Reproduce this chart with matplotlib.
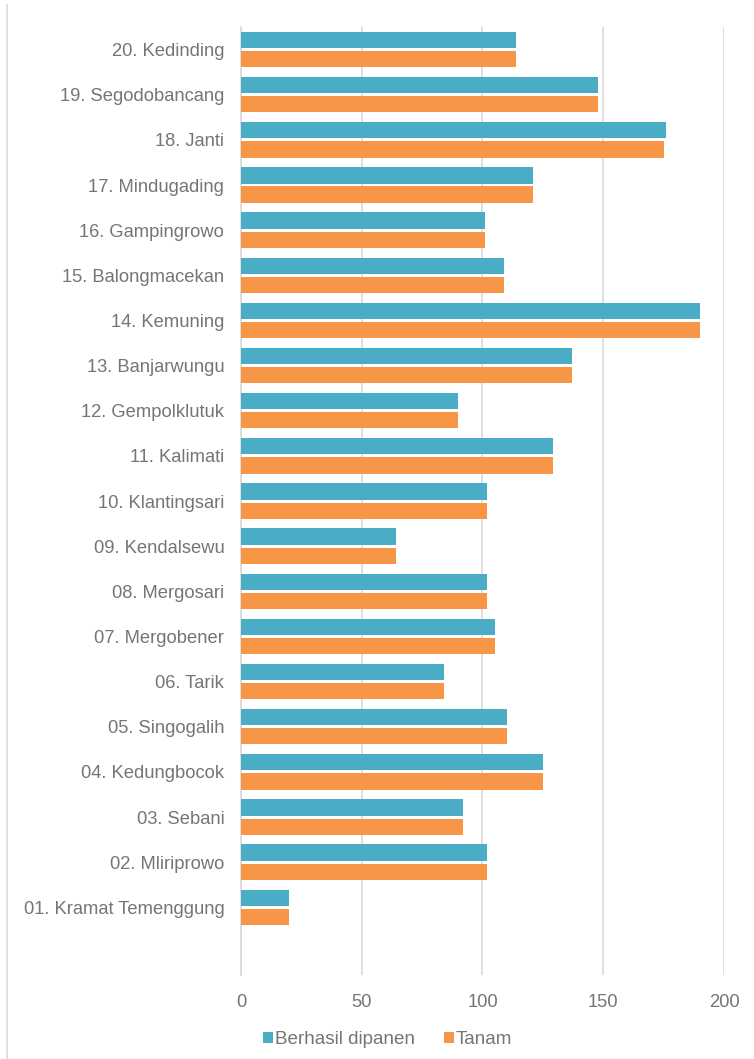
import numpy as np
import matplotlib
matplotlib.use("Agg")
import matplotlib.pyplot as plt
from matplotlib.lines import Line2D

plt.rcParams['font.family'] = ['Liberation Sans', 'DejaVu Sans']

# desa, from 01 (bottom) to 20 (top)
villages = [
    "01. Kramat Temenggung", "02. Mliriprowo", "03. Sebani", "04. Kedungbocok",
    "05. Singogalih", "06. Tarik", "07. Mergobener", "08. Mergosari",
    "09. Kendalsewu", "10. Klantingsari", "11. Kalimati", "12. Gempolklutuk",
    "13. Banjarwungu", "14. Kemuning", "15. Balongmacekan", "16. Gampingrowo",
    "17. Mindugading", "18. Janti", "19. Segodobancang", "20. Kedinding",
]
dipanen = [20, 102, 92, 125, 110, 84, 105, 102, 64, 102,
           129, 90, 137, 190, 109, 101, 121, 176, 148, 114]
tanam = [20, 102, 92, 125, 110, 84, 105, 102, 64, 102,
         129, 90, 137, 190, 109, 101, 121, 175, 148, 114]
xticks = [0, 50, 100, 150, 200]

blue = "#4BACC6"
orange = "#F79646"
grey = "#757575"

fig = plt.figure(figsize=(7.54, 10.59), dpi=100)
ax = fig.add_axes([0.3196, 0.0793, 0.6406, 0.8952])

y = np.arange(len(villages))
h = 0.36
off = 0.213
ax.barh(y + off, dipanen, height=h, color=blue, label="Berhasil dipanen", zorder=3)
ax.barh(y - off, tanam, height=h, color=orange, label="Tanam", zorder=3)

ax.set_xlim(0, 200)
ax.set_ylim(-1.5, 19.5)
ax.set_xticks(xticks)
ax.set_yticks(y)
ax.set_yticklabels(villages)
ax.tick_params(axis='both', length=0, labelsize=13.2, colors=grey)
ax.tick_params(axis='y', pad=12)
ax.tick_params(axis='x', pad=14)
ax.grid(axis='x', color="#D9D9D9", linewidth=1.2, zorder=0)
for s in ['top', 'right', 'bottom']:
    ax.spines[s].set_visible(False)
ax.spines['left'].set_color("#D9D9D9")
ax.spines['left'].set_linewidth(1.2)

# chart frame line on the left
fig.add_artist(Line2D([7 / 754, 7 / 754], [0, 1 - 5 / 1059], color="#D9D9D9", linewidth=1.2))

fig.legend(loc='center', bbox_to_anchor=(0.514, 0.018), ncol=2, frameon=False,
           fontsize=13.6, labelcolor=grey, handlelength=0.55, handleheight=0.55,
           handletextpad=0.1, columnspacing=1.5)

fig.savefig("out.png", dpi=100)
